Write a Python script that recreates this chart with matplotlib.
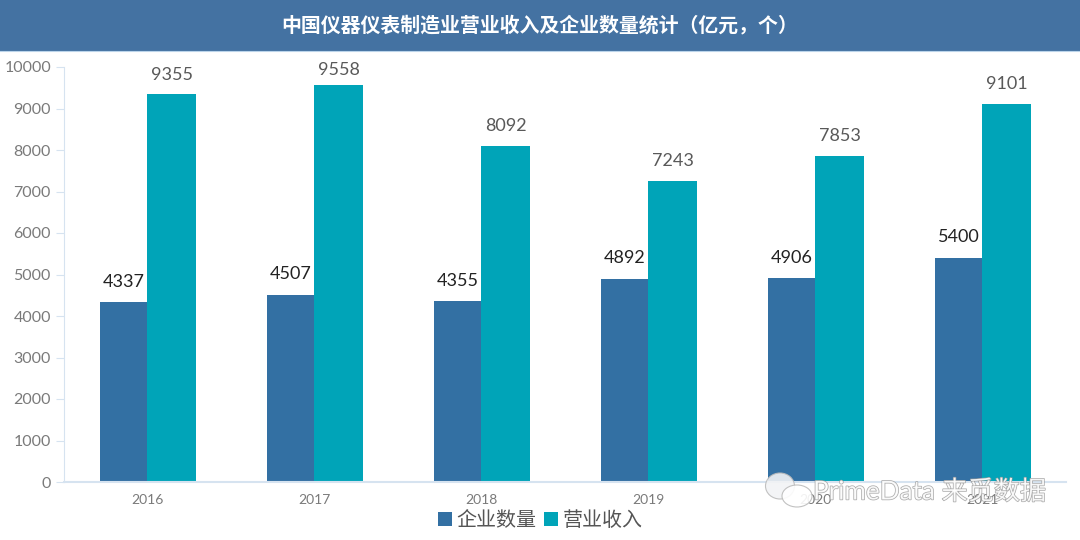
import matplotlib
matplotlib.use("Agg")
import matplotlib.pyplot as plt
import matplotlib.patheffects as pe
from matplotlib.patches import Ellipse
import numpy as np

plt.rcParams['font.family'] = ['Lato', 'Noto Sans CJK SC', 'DejaVu Sans']

years = ['2016', '2017', '2018', '2019', '2020', '2021']
companies = [4337, 4507, 4355, 4892, 4906, 5400]
revenue = [9355, 9558, 8092, 7243, 7853, 9101]

fig = plt.figure(figsize=(10.8, 5.4), dpi=100)

# title band
band = fig.add_axes([0, 1 - 51/540, 1, 51/540])
band.set_facecolor('#4472A2')
band.set_xticks([])
band.set_yticks([])
for s in band.spines.values():
    s.set_visible(False)
band.spines['bottom'].set_visible(True)
band.spines['bottom'].set_color('#BBD4EA')
band.text(0.5, 0.52, '中国仪器仪表制造业营业收入及企业数量统计（亿元，个）', color='white',
          fontsize=14.35, fontweight='bold', ha='center', va='center', transform=band.transAxes,
          family=['Noto Sans CJK SC', 'DejaVu Sans'])

ax = fig.add_axes([63.5/1080, 1 - 482/540, 1002/1080, 415/540])
x = np.arange(len(years))
w1 = 47/167
w2 = 49/167
b1 = ax.bar(x - w1/2, companies, w1, color='#3370A3', label='企业数量')
b2 = ax.bar(x + w2/2, revenue, w2, color='#00A4B8', label='营业收入')
ax.bar_label(b1, padding=9, fontsize=13, color='#222222')
labels2 = ax.bar_label(b2, padding=9, fontsize=13, color='#595959')
labels2[0].xyann = (0, 8)
labels2[1].xyann = (0, 5)  # 9558 sits closer to its bar

ax.set_xlim(-0.5, 5.5)
ax.set_ylim(0, 10000)
ax.set_yticks(range(0, 10001, 1000))
ax.set_xticks(x)
ax.set_xticklabels(years)
ax.tick_params(axis='y', labelsize=11.5, labelcolor='#7a7a7a', color='#D6E3F0', length=6, pad=3)
ax.tick_params(axis='x', labelsize=10, labelcolor='#7a7a7a', length=0, pad=9)
ax.spines['top'].set_visible(False)
ax.spines['right'].set_visible(False)
ax.spines['left'].set_color('#D6E3F0')
ax.spines['bottom'].set_color('#D6E3F0')
ax.spines['bottom'].set_linewidth(1.5)

fig.legend(loc='lower center', bbox_to_anchor=(0.5, -0.0125), ncol=2, frameon=False, fontsize=14.4,
           handlelength=0.72, handleheight=0.72, handletextpad=0.2, columnspacing=0.4, labelcolor='#555555')

# watermark
for cx, cy, ew, eh, fc in [(780, 486, 29, 26, '#F2F3F5'), (797, 496, 30, 22, 'white')]:
    fig.add_artist(Ellipse((cx/1080, 1 - cy/540), ew/1080, eh/540, transform=fig.transFigure,
                           facecolor=fc, edgecolor='#bbbbbb', lw=0.8, alpha=0.9))
fig.text(813/1080, 1 - 492/540, 'PrimeData 来觅数据', fontsize=18.8, color='white', alpha=0.85,
         ha='left', va='center',
         path_effects=[pe.withStroke(linewidth=1, foreground='#999999')])

fig.savefig('out.png', dpi=100)
